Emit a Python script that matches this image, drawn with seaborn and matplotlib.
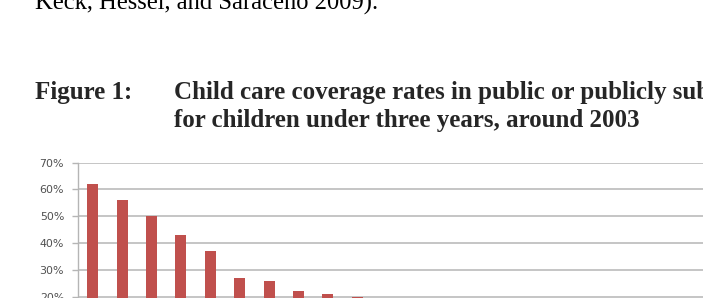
import matplotlib
matplotlib.use("Agg")
import matplotlib.pyplot as plt
import seaborn as sns
import pandas as pd

categories = ["C1", "C2", "C3", "C4", "C5", "C6", "C7", "C8", "C9", "C10"]
coverage = [0.62, 0.56, 0.50, 0.43, 0.37, 0.27, 0.26, 0.22, 0.21, 0.20]
yticks = [0.0, 0.1, 0.2, 0.3, 0.4, 0.5, 0.6, 0.7]
ytick_labels = ["0%", "10%", "20%", "30%", "40%", "50%", "60%", "70%"]

above_text = "Keck, Hessel, and Saraceno 2009)."
fig_label = "Figure 1:"
title_line1 = "Child care coverage rates in public or publicly subsidised"
title_line2 = "for children under three years, around 2003"

df = pd.DataFrame({"country": categories, "coverage": coverage})

sns.set_theme(style="white")
W, H = 703, 298
fig = plt.figure(figsize=(W / 100, H / 100), dpi=100)
fig.patch.set_facecolor("white")

# Axes placed so only the upper part of the chart is visible
slot = 29.4
n_slots = 24
left_px, top_px, zero_px = 78, 162.7, 350.3
ax = fig.add_axes([left_px / W, (H - zero_px) / H,
                   n_slots * slot / W, (zero_px - top_px) / H])

sns.barplot(data=df, x="country", y="coverage", color="#C0504D",
            saturation=1, width=0.38, linewidth=0, edgecolor="none", ax=ax)
ax.set_xlim(-0.5, n_slots - 0.5)
ax.set_ylim(0, 0.7)
ax.set_yticks(yticks)
ax.set_yticklabels(ytick_labels)
ax.yaxis.grid(True, color="#B5B5B5", linewidth=1.1)
ax.set_axisbelow(True)
ax.set_xlabel("")
ax.set_ylabel("")
ax.set_xticks([])
for s in ["top", "right", "bottom"]:
    ax.spines[s].set_visible(False)
ax.spines["left"].set_color("#B5B5B5")
ax.spines["left"].set_linewidth(1.0)
ax.tick_params(axis="y", direction="out", length=4, width=1.0,
               color="#B5B5B5", pad=6, labelsize=7.9, labelcolor="#505050",
               left=True)
for lab in ax.get_yticklabels():
    lab.set_family("DejaVu Sans")

serif = ["Liberation Serif", "DejaVu Serif"]
fig.text(35 / W, (H - 9.5) / H, above_text, family=serif, fontsize=17.7,
         va="baseline", ha="left", color="black")
fig.text(35 / W, (H - 98.5) / H, fig_label, family=serif, fontsize=18,
         weight="bold", va="baseline", ha="left")
fig.text(174 / W, (H - 98.5) / H, title_line1, family=serif, fontsize=18,
         weight="bold", va="baseline", ha="left")
fig.text(174 / W, (H - 127) / H, title_line2, family=serif, fontsize=18,
         weight="bold", va="baseline", ha="left")

fig.savefig("out.png", dpi=100, facecolor="white")
